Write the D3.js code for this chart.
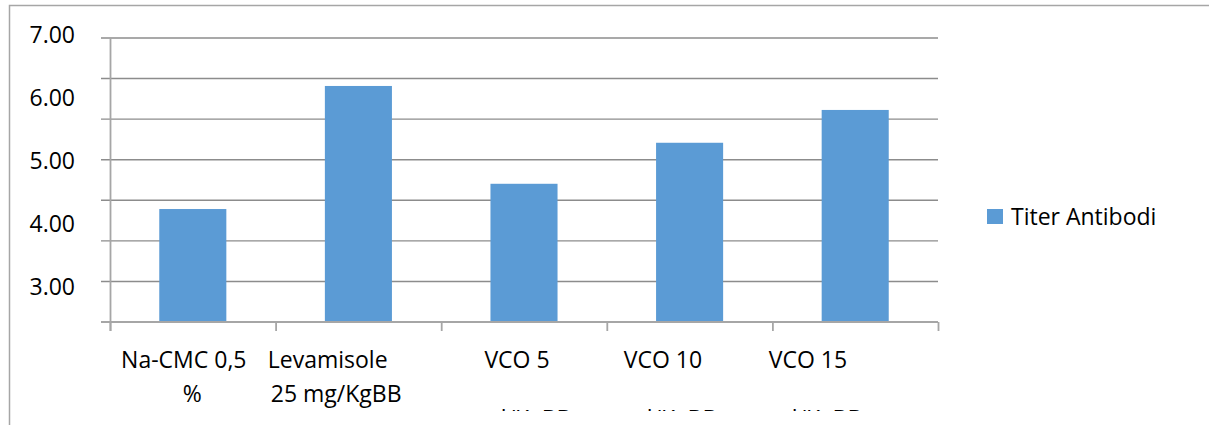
<!DOCTYPE html>
<html>
<head>
<meta charset="utf-8">
<script src="https://cdn.jsdelivr.net/npm/d3@7"></script>
<style>
  html, body { margin: 0; padding: 0; background: #fff; }
  svg { display: block; }
  text { font-family: "Open Sans", "Noto Sans", sans-serif; fill: #000; }
</style>
</head>
<body>
<script>
// Treatment groups (each label split into its printed lines)
const categories = ["Na-CMC 0,5 %", "Levamisole 25 mg/KgBB", "VCO 5 ml/KgBB", "VCO 10 ml/KgBB", "VCO 15 ml/KgBB"];
const categoryLines = [
  ["Na-CMC 0,5", "%"],
  ["Levamisole", "25 mg/KgBB"],
  ["VCO 5", "ml/KgBB"],
  ["VCO 10", "ml/KgBB"],
  ["VCO 15", "ml/KgBB"]
];
// Antibody titer per group
const seriesName = "Titer Antibodi";
const titerValues = [4.29, 6.24, 4.69, 5.34, 5.86];
// Value-axis labels
const tickValues = [7, 6, 5, 4, 3];
const tickLabels = ["7.00", "6.00", "5.00", "4.00", "3.00"];
const axisMin = 2.5, axisMax = 7.0;
const gridCount = 8;

const W = 1209, H = 425;
const svg = d3.select("body").append("svg").attr("width", W).attr("height", H);

// Outer chart frame (top and left edges visible)
svg.append("path")
  .attr("d", "M9.5,425 L9.5,5.5 L1209,5.5")
  .attr("fill", "none").attr("stroke", "#a6a6a6").attr("stroke-width", 1.5);

const plot = { left: 110, right: 938, top: 38, bottom: 322 };

const x = d3.scaleBand()
  .domain(categories)
  .range([plot.left, plot.right])
  .paddingInner(0.595)
  .paddingOuter(0.2975);

const y = d3.scaleLinear()
  .domain([axisMin, axisMax])
  .range([plot.bottom, plot.top]);

// Horizontal gridlines, evenly spaced over the value range
const gridValues = d3.range(gridCount).map(i => axisMin + i * (axisMax - axisMin) / (gridCount - 1));
svg.append("g").selectAll("line")
  .data(gridValues.slice(1))
  .join("line")
  .attr("x1", plot.left - 9).attr("x2", plot.right)
  .attr("y1", d => y(d)).attr("y2", d => y(d))
  .attr("stroke", "#8c8c8c").attr("stroke-width", 1.4);

// Bars
svg.append("g").selectAll("rect")
  .data(titerValues)
  .join("rect")
  .attr("x", (d, i) => x(categories[i]))
  .attr("width", x.bandwidth())
  .attr("y", d => y(d))
  .attr("height", d => y(axisMin) - y(d))
  .attr("fill", "#5b9bd5");

// Value axis line
svg.append("line")
  .attr("x1", plot.left + 0.5).attr("x2", plot.left + 0.5)
  .attr("y1", plot.top).attr("y2", plot.bottom + 9)
  .attr("stroke", "#a6a6a6").attr("stroke-width", 1.8);

// Category axis line and boundary ticks
svg.append("line")
  .attr("x1", plot.left - 9).attr("x2", plot.right)
  .attr("y1", y(axisMin)).attr("y2", y(axisMin))
  .attr("stroke", "#a6a6a6").attr("stroke-width", 1.8);
const step = x.step();
svg.append("g").selectAll("line")
  .data(d3.range(categories.length + 1))
  .join("line")
  .attr("x1", i => plot.left + 0.5 + i * step).attr("x2", i => plot.left + 0.5 + i * step)
  .attr("y1", y(axisMin)).attr("y2", y(axisMin) + 9)
  .attr("stroke", "#a6a6a6").attr("stroke-width", 1.8);

// Value-axis labels
svg.append("g").selectAll("text")
  .data(tickValues)
  .join("text")
  .attr("x", 75)
  .attr("y", d => y(d) + 4.7)
  .attr("text-anchor", "end")
  .attr("font-size", 23)
  .text((d, i) => tickLabels[i]);

// Category labels, clipped at the bottom of the label area
svg.append("defs").append("clipPath").attr("id", "labelClip")
  .append("rect").attr("x", 0).attr("y", 330).attr("width", W).attr("height", 81);
const labelShift = [-9, -30.7, -7, -26.7, -47.3];
const lineGap = [34, 34, 58.5, 58.5, 58.5];
const labels = svg.append("g").attr("clip-path", "url(#labelClip)");
categoryLines.forEach((lines, i) => {
  const cx = x(categories[i]) + x.bandwidth() / 2 + labelShift[i];
  lines.forEach((line, j) => {
    labels.append("text")
      .attr("x", cx + (j > 0 ? 8.5 : 0))
      .attr("y", 368 + j * lineGap[i])
      .attr("text-anchor", "middle")
      .attr("font-size", 23)
      .text(line);
  });
});

// Legend
const legend = svg.append("g").attr("transform", "translate(987,209)");
legend.append("rect").attr("width", 16).attr("height", 15).attr("fill", "#5b9bd5");
legend.append("text").attr("x", 24).attr("y", 16).attr("font-size", 23).text(seriesName);
</script>
</body>
</html>
